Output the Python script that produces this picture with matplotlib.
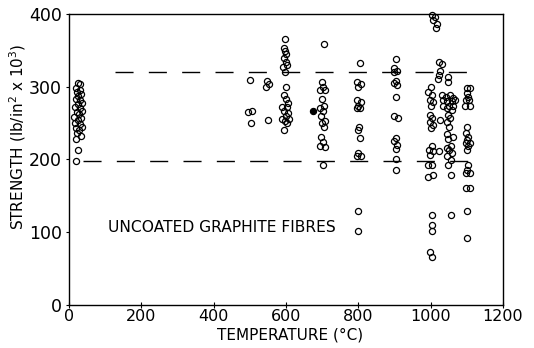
import numpy as np
import matplotlib
matplotlib.use("Agg")
import matplotlib.pyplot as plt

# room temperature
t_rt = [25, 32, 20, 30, 22, 33, 25, 20, 30, 35, 25, 18, 30, 35, 22, 28, 15, 33,
        25, 18, 30, 35, 20, 28, 23, 33, 20, 25, 20]
s_rt = [305, 303, 298, 296, 292, 290, 287, 283, 281, 278, 276, 272, 270, 266, 265,
        262, 258, 257, 254, 250, 248, 245, 243, 240, 236, 232, 228, 213, 198]

# 500 - 600 C
t_500 = [500, 495, 505, 502, 548, 554, 545, 550]
s_500 = [309, 265, 266, 250, 308, 304, 300, 254]

t_600 = [598, 595, 598, 600, 595, 600, 603, 592, 597, 600, 595, 600, 605, 590,
         603, 595, 605, 600, 590, 608, 597, 602, 595]
s_600 = [366, 353, 349, 345, 339, 334, 330, 327, 320, 299, 288, 283, 278, 272,
         272, 266, 264, 260, 256, 256, 253, 250, 241]

# 700 C
t_700 = [705, 700, 703, 695, 708, 700, 706, 695, 703, 697, 707, 700, 705, 697,
         703, 695, 708, 703]
s_700 = [358, 307, 300, 295, 296, 283, 273, 270, 266, 260, 253, 250, 245, 231,
         224, 218, 217, 192]
t_filled = [675]
s_filled = [267]

# 800 C
t_800 = [805, 797, 808, 800, 795, 808, 800, 806, 795, 803, 800, 806, 800, 795,
         808, 800, 800]
s_800 = [332, 307, 304, 300, 281, 279, 274, 271, 270, 245, 240, 230, 209, 205,
         204, 129, 101]

# 900 C
t_900 = [905, 900, 908, 898, 905, 900, 908, 903, 898, 910, 905, 900, 907, 903,
         905, 903]
s_900 = [338, 325, 322, 320, 308, 305, 302, 286, 259, 257, 230, 225, 220, 214,
         200, 186]

# 1000 C
t_1000 = [1003, 1012, 1007, 1018, 1015, 1023, 1032, 1026, 1024, 1019, 1000, 993,
          1003, 998, 1007, 1001, 998, 1003, 998, 1006, 1001, 1026, 1003, 996,
          1007, 998, 1022, 993, 1003, 993, 1007, 1005, 1003, 1003, 998, 1005]
s_1000 = [399, 396, 391, 386, 380, 334, 331, 321, 316, 310, 299, 293, 289, 282,
          279, 274, 261, 257, 252, 247, 243, 254, 218, 213, 211, 206, 211, 192,
          192, 176, 179, 124, 110, 101, 73, 66]

# 1050 C
t_1050 = [1049, 1049, 1030, 1042, 1053, 1062, 1035, 1046, 1058, 1067, 1035, 1051,
          1061, 1046, 1058, 1049, 1053, 1044, 1051, 1044, 1062, 1049, 1055, 1044,
          1051, 1060, 1045, 1055, 1049, 1055, 1055]
s_1050 = [313, 307, 289, 286, 289, 284, 282, 280, 280, 282, 274, 273, 274, 270,
          268, 261, 257, 252, 245, 235, 231, 228, 218, 216, 213, 209, 204, 199,
          192, 179, 124]

# 1100 C
t_1100 = [1101, 1110, 1101, 1104, 1098, 1107, 1095, 1109, 1101, 1098, 1104, 1101,
          1098, 1109, 1104, 1101, 1104, 1100, 1098, 1109, 1098, 1109, 1101, 1101]
s_1100 = [298, 298, 291, 286, 281, 281, 273, 273, 245, 236, 231, 227, 222, 222,
          218, 213, 192, 185, 181, 181, 160, 160, 129, 92]

upper_band = 320
lower_band = 198
upper_span = [127, 1130]
lower_span = [39, 1130]

x_ticks = [0, 200, 400, 600, 800, 1000, 1200]
y_ticks = [0, 100, 200, 300, 400]

fig = plt.figure(figsize=(5.34, 3.48), dpi=100)
ax = fig.add_axes([0.129, 0.124, 0.813, 0.836])

ax.hlines(upper_band, upper_span[0], upper_span[1], colors="black", lw=1.0,
          linestyles=(0, (13, 11)))
ax.hlines(lower_band, lower_span[0], lower_span[1], colors="black", lw=1.0,
          linestyles=(0, (13, 11)))

groups = [(t_rt, s_rt), (t_500, s_500), (t_600, s_600), (t_700, s_700),
          (t_800, s_800), (t_900, s_900), (t_1000, s_1000), (t_1050, s_1050),
          (t_1100, s_1100)]
for t, s in groups:
    ax.plot(t, s, "o", ms=4.4, mfc="none", mec="black", mew=0.9, clip_on=False)
ax.plot(t_filled, s_filled, "o", ms=4.4, mfc="black", mec="black", mew=0.9)

ax.text(108, 106, "UNCOATED GRAPHITE FIBRES", fontsize=11.2, va="center")

ax.set_xlim(0, 1200)
ax.set_ylim(0, 400)
ax.set_xticks(x_ticks)
ax.set_yticks(y_ticks)
ax.tick_params(axis="x", direction="inout", length=4, labelsize=11.5, pad=1)
ax.tick_params(axis="y", direction="out", length=2, labelsize=12.5, pad=3)
for sp in ax.spines.values():
    sp.set_linewidth(1.0)

ax.set_xlabel("TEMPERATURE (°C)", fontsize=11)
ax.xaxis.set_label_coords(0.51, -0.078)
ax.set_ylabel("STRENGTH (lb/in$^2$ x 10$^3$)", fontsize=11)
ax.yaxis.set_label_coords(-0.094, 0.577)

fig.savefig("out.png", dpi=100)
